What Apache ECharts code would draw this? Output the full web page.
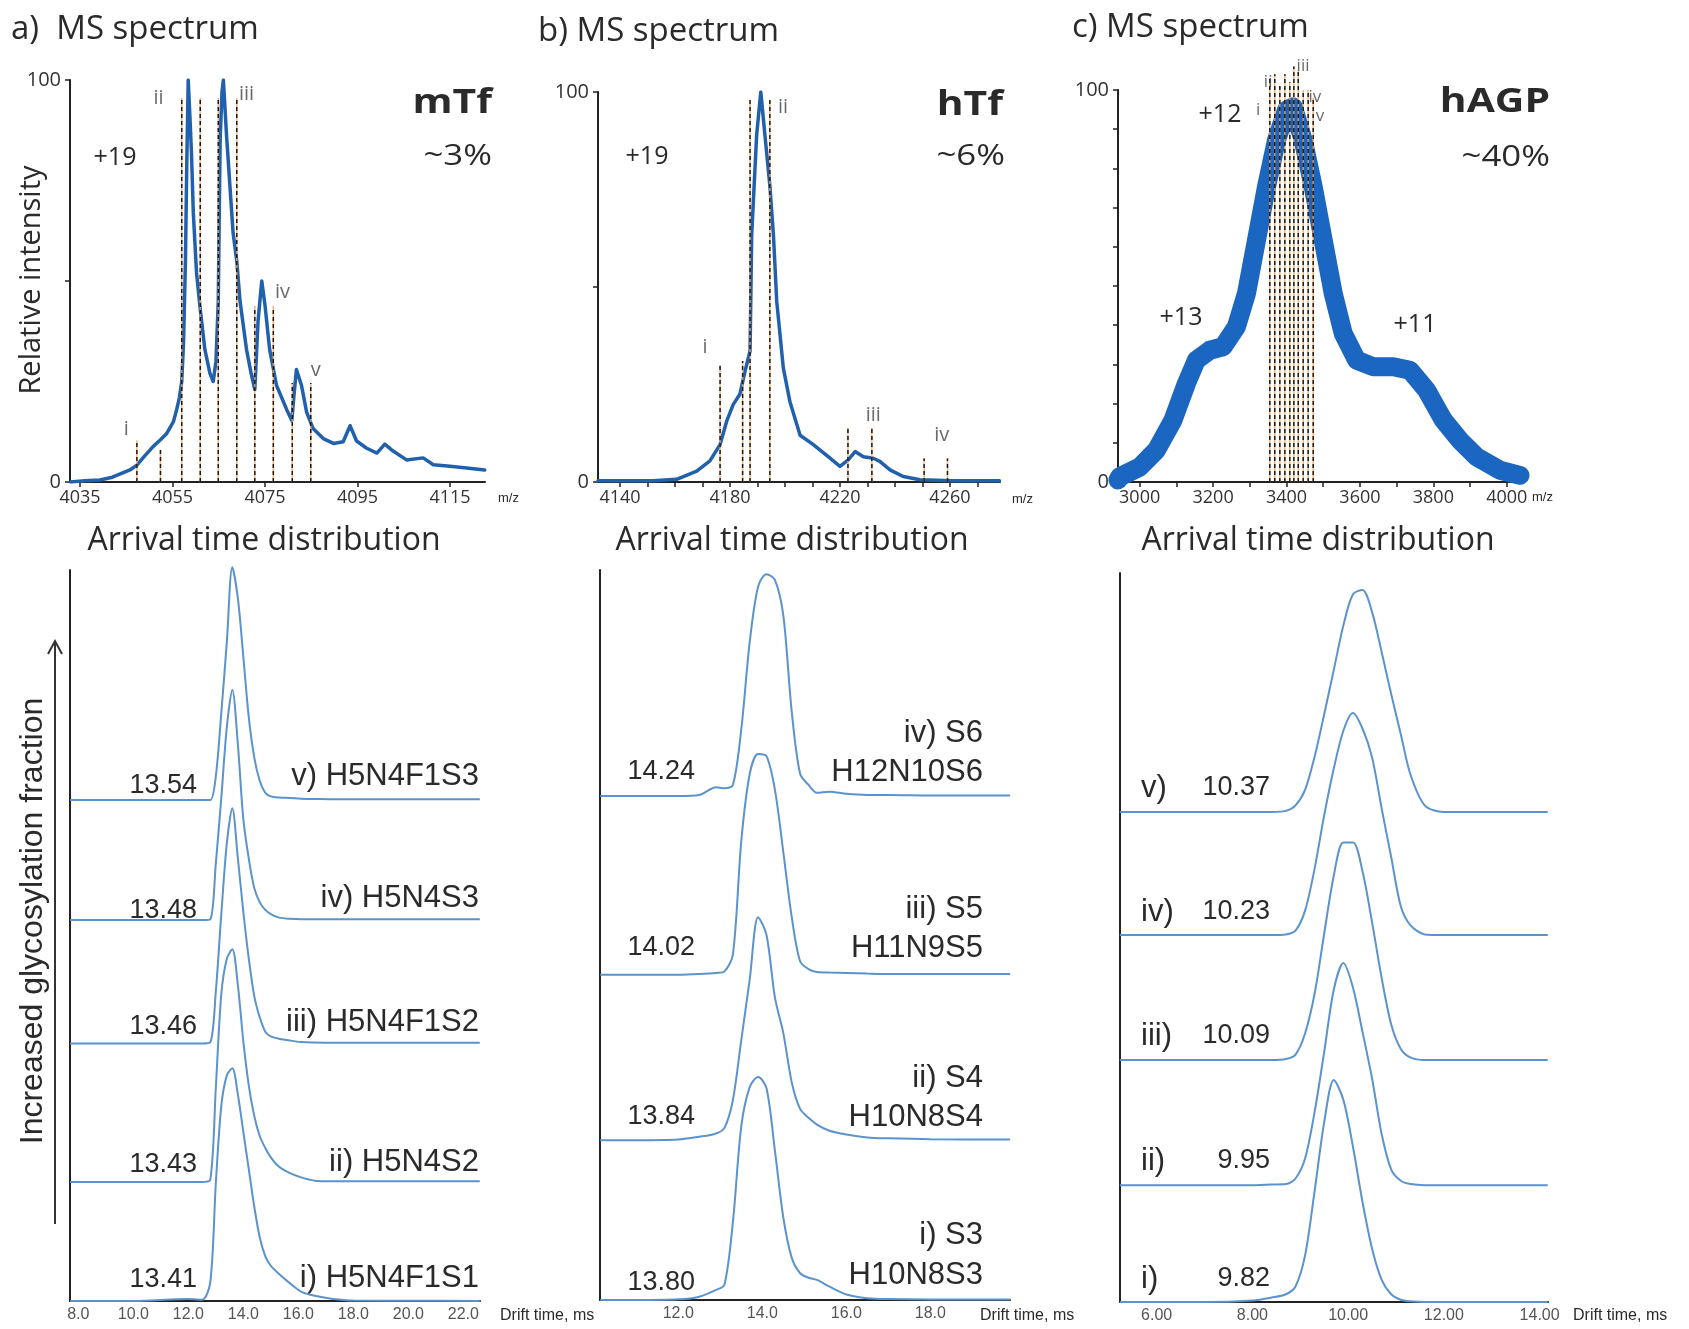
<!DOCTYPE html>
<html><head><meta charset="utf-8">
<script src="https://cdn.jsdelivr.net/npm/echarts@6/dist/echarts.min.js"></script>
<style>html,body{margin:0;padding:0;background:#fff}#c{width:1689px;height:1329px}</style>
</head><body><div id="c"></div>
<script>
// ---------------- DATA ----------------
// a) mTf MS spectrum (+19)
const specA_mz = [4033,4036,4039.3,4042,4045.8,4047.3,4049,4050.8,4052.4,4053.7,4055.2,4055.9,4056.5,4057.0,4057.4,4057.8,4058.1,4058.4,4058.8,4059.1,4059.5,4060.2,4061.0,4062.0,4063.1,4063.8,4064.4,4064.9,4065.3,4065.7,4066.0,4066.4,4066.7,4067.4,4068.1,4068.9,4069.6,4071.0,4072.0,4072.8,4073.5,4074.3,4075.0,4076.0,4077.5,4079.7,4080.8,4081.3,4081.8,4082.9,4084.0,4085.4,4087.6,4089.8,4091.9,4093.4,4094.8,4097,4099.2,4100.9,4102.7,4105.6,4109.2,4111.4,4115,4118.6,4122.5];
const specA_int = [0,0.3,0.5,1.2,3,4.2,6.5,8.8,10.5,12,15,18,21,25,35,55,80,100,90,82,67,52,43,33,27,25,30,45,85,97,100,92,86,74,62,55,45,33,27,23,40,50,44,33,24,18,15.3,22,28,24,17.4,13.3,10.8,9.6,10,14,10.2,8.4,7.2,9.4,7.7,5.5,6,4.3,3.9,3.5,3];
const specA_lines = [4047.3,4052.4,4057.0,4061.0,4064.9,4068.9,4072.8,4076.8,4080.9,4084.9];
const specA_lineTop = [10.4,8,95.5,95.5,95.5,95.5,43.6,43.6,24.6,24.6];
const specA_roman = ['i','ii','iii','iv','v'];
const specA_romanMz = [4045,4052,4071,4078.8,4086];
const specA_romanInt = [13,95.5,96.5,47.3,27.9];
const specA_xLabels = [4035,4055,4075,4095,4115];

// b) hTf MS spectrum (+19)
const specB_mz = [4132,4152,4160.6,4167.9,4172.7,4176.4,4178.8,4181.2,4183.6,4185.5,4187.3,4187.9,4189.7,4191.2,4192.7,4194.5,4195.8,4197,4199.4,4201.8,4205.5,4210.3,4216.4,4220,4223,4225.5,4228.5,4232.1,4234.5,4238.2,4243,4249.1,4261.2,4278];
const specB_int = [0.3,0.3,0.7,2.8,5.4,9.6,15.6,19.9,22.5,28.5,33.6,63.4,89,100,89,76,63.4,46.3,29.2,20.6,12,9.6,6.1,4,5.7,7.8,6.5,6.1,5.3,3.1,1.4,0.6,0.3,0.3];
const specB_lines = [4176.4,4184.6,4187.3,4194.5,4222.9,4231.6,4250.6,4259.1];
const specB_lineTop = [30,31,98,98,14,14,6,6];
const specB_roman = ['i','ii','iii','iv'];
const specB_romanMz = [4170.9,4199.3,4232.1,4257];
const specB_romanInt = [34.6,96,17.1,12];
const specB_xLabels = [4140,4180,4220,4260];
const specB_xTicks = [4140,4150,4160,4170,4180,4190,4200,4210,4220,4230,4240,4250,4260,4270];

// c) hAGP MS spectrum (+13, +12, +11)
const specC_mz = [2941,2945.5,3000,3045.5,3090.9,3127.3,3154.5,3190.9,3227.3,3263.6,3290.9,3318.2,3345.5,3372.7,3400,3418.2,3445.5,3472.7,3500,3527.3,3554.5,3590.9,3636.4,3690.9,3736.4,3781.8,3827.3,3872.7,3918.2,3981.8,4036];
const specC_int = [0.5,1.3,3.8,8.1,15.8,25.1,31.1,33.6,34.5,39.6,48.1,61.7,75.3,87.2,94.9,95.7,87.2,75.3,61.7,48.1,37.9,31.1,29.4,29.4,28.5,23.4,15.8,10.6,6.4,3.0,1.7];
const specC_lines = [3354.5,3368,3381.8,3395.5,3409,3420,3432,3445.5,3459,3472.7];
const specC_lineTop = [103,104,101,104,102,106,105,100,100,98];
const specC_roman = ['i','ii','iii','iv','v'];
const specC_romanMz = [3323,3350,3445,3477,3491];
const specC_romanInt = [94.9,102,106,98.3,93.2];
const specC_xLabels = [3000,3200,3400,3600,3800,4000];
const specC_xTicks = [3000,3100,3200,3300,3400,3500,3600,3700,3800,3900,4000];

// a) Arrival time distributions (drift time, ms)
const atdA_t = [7.7,10,12,12.5,12.8,13.0,13.2,13.4,13.6,13.8,14.0,14.2,14.4,14.6,14.8,15.0,15.3,15.7,16.1,16.6,17.2,18,20,22.6];
const atdA_i   = [0,0,0.8,0.5,8,50,83,96,99,88,72,56,40,27,19,15,11.5,7.5,4,2.2,1,0.2,0.1,0];
const atdA_ii  = [0,0,0,0,1,40,80,95,99,84,60,41,28,19.5,14.5,10.5,6.5,3.8,2,0.6,0.3,0.3,0.3,0.3];
const atdA_iii = [0,0,0,0,0.5,22,55,85,100,79,56,36,20,11,5,3,2,1.2,0.6,0.4,0.3,0.3,0.3,0.3];
const atdA_iv  = [0,0,0,0,0.3,24,52,82,98,75,43,26,13.5,7.5,4.3,2.5,1,0.5,0.3,0.3,0.3,0.3,0.3,0.3];
const atdA_v   = [0,0,0,0,0,10,37,67,99,86,61,35,18,8,3,1.5,1,0.8,0.5,0.4,0.3,0.3,0.3,0.3];
const atdA_baseline = [0,50.6,109.6,162.1,213.2];
const atdA_drift = ['13.41','13.43','13.46','13.48','13.54'];
const atdA_names = ['i) H5N4F1S1','ii) H5N4S2','iii) H5N4F1S2','iv) H5N4S3','v) H5N4F1S3'];
const atdA_xLabels = [8,10,12,14,16,18,20,22];

// b) Arrival time distributions
const atdB_t = [10.14,11,12,12.5,12.9,13.1,13.3,13.5,13.7,13.9,14.1,14.3,14.5,14.7,14.9,15.1,15.3,15.6,16.0,16.5,17,18,19.9];
const atdB_i   = [0,0,0.3,1.5,4.5,7,35,78,95.5,100,95,67,37,19,12,10,9,6,2.5,0.8,0.4,0.2,0.2];
const atdB_ii  = [0,0,0.3,1.5,3,5.5,18,45,72,100,92,64,48,26,14,10,7,4.2,2.5,1.2,0.8,0.4,0.3];
const atdB_iii = [0,0,0,0.3,0.8,1.5,9,60,90,99,98,83,55,26,6,2.5,1.2,1,0.8,0.5,0.3,0.3,0.3];
const atdB_iv  = [0,0,0,0.5,4,3.5,5,30,69,94,99.5,97,81,38,10,5,1.5,2,1,0.5,0.5,0.3,0.3];
const atdB_baseline = [0,71.7,145.9,226];
const atdB_drift = ['13.80','13.84','14.02','14.24'];
const atdB_names1 = ['i) S3','ii) S4','iii) S5','iv) S6'];
const atdB_names2 = ['H10N8S3','H10N8S4','H11N9S5','H12N10S6'];
const atdB_xLabels = [12,14,16,18];

// c) Arrival time distributions
const atdC_t = [5.23,7,8,8.4,8.7,8.9,9.1,9.3,9.5,9.7,9.9,10.1,10.3,10.5,10.7,10.9,11.1,11.3,11.6,12,13,14.17];
const atdC_i   = [0,0,0.7,2,3.5,7,21,50,81,100,91,70,45,24,10,3.5,1,0.3,0,0,0,0];
const atdC_ii  = [0,0,0,0.3,0.5,3,12,33,60,88,100,89,69,48,23,7,2,0.5,0,0,0,0];
const atdC_iii = [0,0,0,0,0.5,2.5,12,30,57,83,98,98,85,62,37,16,5,1.2,0,0,0,0];
const atdC_iv  = [0,0,0,0,0.3,2,11,30,54,75,92,100,93,80,57,35,13,4.5,0.3,0,0,0];
const atdC_v   = [0,0,0,0,0.5,3,10,25,44,64,84,98,100,90,72,53,35,17,3,0,0,0];
const atdC_baseline = [0,52.6,108.9,165.2,220.6];
const atdC_drift = ['9.82','9.95','10.09','10.23','10.37'];
const atdC_roman = ['i)','ii)','iii)','iv)','v)'];
const atdC_xLabels = [6,8,10,12,14];

// ---------------- CHART ----------------
const chart = echarts.init(document.getElementById('c'));
const BLACK = '#222';
const axLine = {show:true, onZero:false, lineStyle:{color:BLACK, width:2}};
const OS = 'Open Sans';
const LS = 'Liberation Sans';

function topX(g, min, max, labels, ticks){
  return {type:'value', gridIndex:g, min, max, axisLine:axLine, splitLine:{show:false},
    axisTick:{show:true, customValues:ticks, length:5, lineStyle:{color:BLACK, width:1.5}},
    axisLabel:{show:true, customValues:labels, margin:7, fontSize:18, fontFamily:OS, color:'#333',
      formatter:v=>String(v)}};
}
function topY(g, ticks){
  return {type:'value', gridIndex:g, min:0, max:100, axisLine:axLine, splitLine:{show:false},
    axisTick:{show:true, customValues:ticks, length:5, lineStyle:{color:BLACK, width:1.5}},
    axisLabel:{show:true, customValues:[0,100], margin:9, fontSize:20, fontFamily:OS, color:'#333',
      formatter:v=>String(v)}};
}
function botX(g, min, max, labels, dec){
  return {type:'value', gridIndex:g, min, max, axisLine:axLine, splitLine:{show:false},
    axisTick:{show:false},
    axisLabel:{show:true, customValues:labels, margin:6, fontSize:16, fontFamily:LS, color:'#555',
      formatter:v=>v.toFixed(dec)}};
}
function botY(g, max){
  return {type:'value', gridIndex:g, min:0, max, axisLine:axLine, splitLine:{show:false},
    axisTick:{show:false}, axisLabel:{show:false}};
}

const grids = [
  {left:70, top:80, width:415, height:402},
  {left:598, top:92, width:402, height:390},
  {left:1118, top:90, width:402, height:392},
  {left:70, top:570, width:410, height:731},
  {left:600, top:570, width:410, height:730},
  {left:1120, top:573, width:428, height:729}
].map(g=>Object.assign({outerBoundsMode:'none', containLabel:false}, g));

const xAxes = [
  topX(0, 4032.84, 4122.57, specA_xLabels, specA_xLabels),
  topX(1, 4132.0, 4278.2, specB_xLabels, specB_xTicks),
  topX(2, 2941, 4036, specC_xLabels, specC_xTicks),
  botX(3, 7.698, 22.607, atdA_xLabels, 1),
  botX(4, 10.136, 19.897, atdB_xLabels, 1),
  botX(5, 5.234, 14.175, atdC_xLabels, 2)
];
const yAxes = [
  topY(0, [0,50,100]),
  topY(1, [0,50,100]),
  topY(2, [0,10,20,30,40,50,60,70,80,90,100]),
  botY(3, 311),
  botY(4, 327.4),
  botY(5, 328.2)
];

const series = [];
function pairs(xs, ys){ return xs.map((x,i)=>[x, ys[i]]); }
function spectrum(idx, mz, ints, lines, tops, roman, rmz, rint, color, width, rfont){
  series.push({type:'line', xAxisIndex:idx, yAxisIndex:idx, data:pairs(mz, ints), symbol:'none', showSymbol:false,
    lineStyle:{color, width, join:'round', cap:'round'}, animation:false, z:2});
  lines.forEach((m,i)=>{
    series.push({type:'line', xAxisIndex:idx, yAxisIndex:idx, clip:false, symbol:'none', animation:false, z:3,
      silent:true, data:[[m,0],[m,tops[i]]], lineStyle:{color:'rgba(240,160,90,0.8)', width:1.5}});
    series.push({type:'line', xAxisIndex:idx, yAxisIndex:idx, clip:false, symbol:'none', animation:false, z:4,
      silent:true, data:[[m,0],[m,tops[i]]], lineStyle:{color:'#1a1a1a', width:1.5, type:[4,3]}});
  });
  series.push({type:'scatter', xAxisIndex:idx, yAxisIndex:idx, clip:false, symbolSize:1, animation:false, z:5,
    itemStyle:{color:'rgba(0,0,0,0)'},
    data: rmz.map((m,i)=>({value:[m, rint[i]], name:roman[i]})),
    label:{show:true, position:'inside', formatter:p=>p.name, fontFamily:OS, fontSize:rfont, color:'#444'}});
}
spectrum(0, specA_mz, specA_int, specA_lines, specA_lineTop, specA_roman, specA_romanMz, specA_romanInt, '#2160ad', 3.5, 20);
spectrum(1, specB_mz, specB_int, specB_lines, specB_lineTop, specB_roman, specB_romanMz, specB_romanInt, '#2160ad', 3.5, 20);
spectrum(2, specC_mz, specC_int, specC_lines, specC_lineTop, specC_roman, specC_romanMz, specC_romanInt, '#1b66c0', 19, 17);

function atd(idx, t, curves, base){
  curves.forEach((c,j)=>{
    series.push({type:'line', xAxisIndex:idx, yAxisIndex:idx, clip:false, symbol:'none', smooth:0.3,
      animation:false, lineStyle:{color:'#5b93cc', width:2},
      data: t.map((x,k)=>[x, base[j] + c[k]])});
  });
}
atd(3, atdA_t, [atdA_i, atdA_ii, atdA_iii, atdA_iv, atdA_v], atdA_baseline);
atd(4, atdB_t, [atdB_i, atdB_ii, atdB_iii, atdB_iv], atdB_baseline);
atd(5, atdC_t, [atdC_i, atdC_ii, atdC_iii, atdC_iv, atdC_v], atdC_baseline);

// ---------------- TEXT ----------------
const G = [];
function T(x, y, text, font, align, extra){
  G.push(Object.assign({type:'text', x, y, silent:true,
    style:{text, font, fill:'#2a2a2a', textAlign:align||'left', textVerticalAlign:'middle'}}, extra||{}));
}
const fTitle = '33px "Open Sans"';
T(11, 30, 'a)  MS spectrum', fTitle);
T(538, 32, 'b) MS spectrum', fTitle);
T(1072, 28, 'c) MS spectrum', fTitle);
T(32, 280, 'Relative intensity', '29px "Open Sans"', 'center', {rotation:Math.PI/2});
T(115, 158, '+19', '25px "Open Sans"', 'center');
T(647, 157, '+19', '25px "Open Sans"', 'center');
T(1220, 115, '+12', '25px "Open Sans"', 'center');
T(1181, 318, '+13', '25px "Open Sans"', 'center');
T(1415, 325, '+11', '25px "Open Sans"', 'center');
const fName = 'bold 34px "Open Sans"';
T(492, 103, 'mTf', fName, 'right', {scaleX:1.2});
T(1003, 105, 'hTf', fName, 'right', {scaleX:1.2});
T(1550, 102, 'hAGP', fName, 'right', {scaleX:1.2});
T(492, 157, '~3%', '29px "Open Sans"', 'right', {scaleX:1.2});
T(1005, 157, '~6%', '29px "Open Sans"', 'right', {scaleX:1.2});
T(1550, 158, '~40%', '29px "Open Sans"', 'right', {scaleX:1.2});
T(498, 498, 'm/z', '13px "Liberation Sans"');
T(1012, 499, 'm/z', '13px "Liberation Sans"');
T(1532, 497, 'm/z', '13px "Liberation Sans"');

const fATD = '32px "Open Sans"';
T(264, 541, 'Arrival time distribution', fATD, 'center');
T(792, 541, 'Arrival time distribution', fATD, 'center');
T(1318, 541, 'Arrival time distribution', fATD, 'center');
T(33, 921, 'Increased glycosylation fraction', '32px "Liberation Sans"', 'center', {rotation:Math.PI/2});
G.push({type:'line', silent:true, shape:{x1:55, y1:1224, x2:55, y2:642}, style:{stroke:'#333', lineWidth:2}});
G.push({type:'polyline', silent:true, shape:{points:[[48,654],[55,641],[62,654]]}, style:{stroke:'#333', lineWidth:2, fill:null}});

const fNum = '27px "Liberation Sans"';
const fLab = '31px "Liberation Sans"';
const aNumY = [1280, 1165, 1027, 911, 786];
const aLabY = [1278, 1162, 1022, 898, 776];
atdA_drift.forEach((s,i)=>{ T(197, aNumY[i], s, fNum, 'right'); T(479, aLabY[i], atdA_names[i], fLab, 'right'); });
const bNumY = [1283, 1117, 948, 772];
const bLab1Y = [1235, 1078, 909, 733];
const bLab2Y = [1275, 1117, 948, 772];
atdB_drift.forEach((s,i)=>{ T(695, bNumY[i], s, fNum, 'right'); T(983, bLab1Y[i], atdB_names1[i], fLab, 'right'); T(983, bLab2Y[i], atdB_names2[i], fLab, 'right'); });
const cY = [1279, 1161, 1036, 912, 788];
atdC_drift.forEach((s,i)=>{ T(1270, cY[i], s, fNum, 'right'); T(1141, cY[i], atdC_roman[i], fLab, 'left'); });

T(500, 1316, 'Drift time, ms', '16px "Liberation Sans"');
T(980, 1316, 'Drift time, ms', '16px "Liberation Sans"');
T(1573, 1316, 'Drift time, ms', '16px "Liberation Sans"');

chart.setOption({
  animation:false,
  backgroundColor:'#fff',
  grid: grids, xAxis: xAxes, yAxis: yAxes, series, graphic: G
});
</script></body></html>
